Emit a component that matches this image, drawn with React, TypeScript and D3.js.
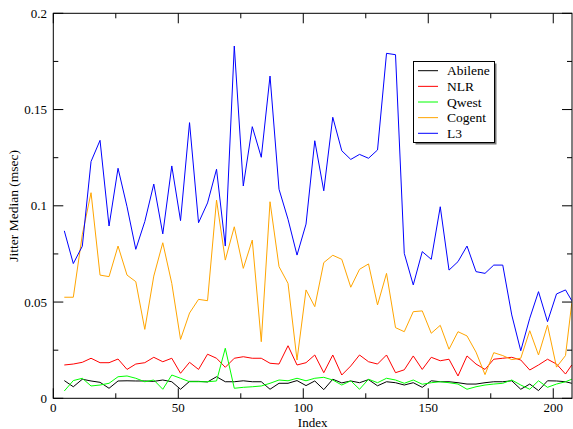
import React, { useEffect, useRef } from 'react';
import * as d3 from 'd3';

// sample index (shared by every series)
const indexValues = [
  4.4, 8.0, 11.6, 15.1, 18.7, 22.3, 25.9, 29.5, 33.0, 36.6, 40.2, 43.8, 47.4, 50.9, 54.5,
  58.1, 61.7, 65.3, 68.8, 72.4, 76.0, 79.6, 83.2, 86.7, 90.3, 93.9, 97.5, 101.1, 104.6,
  108.2, 111.8, 115.4, 119.0, 122.5, 126.1, 129.7, 133.3, 136.9, 140.4, 144.0, 147.6,
  151.2, 154.8, 158.3, 161.9, 165.5, 169.1, 172.7, 176.2, 179.8, 183.4, 187.0, 190.6,
  194.1, 197.7, 201.3, 204.9, 207.4
];

const abilene = [
  0.0092, 0.006, 0.0099, 0.009, 0.0083, 0.0052, 0.009, 0.0091, 0.009, 0.009, 0.0088, 0.0095,
  0.0086, 0.0047, 0.0088, 0.0088, 0.0085, 0.0112, 0.0086, 0.0086, 0.0091, 0.0086, 0.0086,
  0.0047, 0.0078, 0.0078, 0.0092, 0.0066, 0.009, 0.0045, 0.0099, 0.008, 0.009, 0.0081,
  0.0097, 0.0065, 0.0086, 0.0081, 0.0069, 0.0081, 0.0057, 0.0091, 0.0086, 0.0086, 0.0081,
  0.0074, 0.0074, 0.0081, 0.0086, 0.0086, 0.0091, 0.0047, 0.0074, 0.004, 0.0091, 0.009,
  0.0086, 0.0078
];

const nlr = [
  0.0173, 0.0178, 0.0187, 0.0208, 0.0185, 0.0185, 0.0204, 0.015, 0.0178, 0.0185, 0.0213,
  0.019, 0.0208, 0.013, 0.0187, 0.015, 0.0229, 0.0208, 0.0161, 0.0208, 0.0216, 0.0208,
  0.0208, 0.0182, 0.0178, 0.0273, 0.0173, 0.0185, 0.0225, 0.0133, 0.0225, 0.0121, 0.0168,
  0.0225, 0.019, 0.0178, 0.0225, 0.0133, 0.0148, 0.022, 0.015, 0.0213, 0.0195, 0.0203,
  0.0116, 0.022, 0.0178, 0.015, 0.0203, 0.0208, 0.0213, 0.0199, 0.0147, 0.0173, 0.0203,
  0.0178, 0.0126, 0.0173
];

const qwest = [
  0.0038, 0.0092, 0.0104, 0.0064, 0.0069, 0.0078, 0.0112, 0.0116, 0.0104, 0.0086, 0.0095,
  0.0047, 0.0121, 0.0104, 0.0086, 0.0086, 0.0086, 0.009, 0.026, 0.0052, 0.0057, 0.006,
  0.0064, 0.0078, 0.0095, 0.0091, 0.0104, 0.0091, 0.0104, 0.0109, 0.0095, 0.0069, 0.0091,
  0.0047, 0.0099, 0.0081, 0.0104, 0.0095, 0.0078, 0.0095, 0.0073, 0.0081, 0.0086, 0.0081,
  0.0074, 0.0047, 0.006, 0.0069, 0.0074, 0.0078, 0.0095, 0.0069, 0.0047, 0.0091, 0.0057,
  0.0074, 0.0086, 0.0099
];

const cogent = [
  0.0525, 0.0525, 0.085, 0.1068, 0.064, 0.0632, 0.0791, 0.064, 0.0606, 0.0358, 0.0635,
  0.0808, 0.0597, 0.0306, 0.0443, 0.0514, 0.0507, 0.103, 0.0718, 0.0891, 0.0675, 0.0822,
  0.0294, 0.1021, 0.0684, 0.0597, 0.0199, 0.0563, 0.0476, 0.0705, 0.0743, 0.0722, 0.0577,
  0.067, 0.0698, 0.0485, 0.0649, 0.0367, 0.0346, 0.045, 0.0454, 0.0338, 0.0379, 0.0255,
  0.0346, 0.0324, 0.024, 0.0123, 0.0237, 0.0222, 0.0201, 0.0208, 0.0351, 0.0225, 0.038,
  0.0162, 0.0222, 0.0494
];

const l3 = [
  0.087, 0.070, 0.079, 0.123, 0.134, 0.0895, 0.1195, 0.0995, 0.0774, 0.0918, 0.1113,
  0.0854, 0.1207, 0.0923, 0.1432, 0.0912, 0.1015, 0.119, 0.0791, 0.183, 0.1103, 0.1411,
  0.1252, 0.1674, 0.1086, 0.093, 0.0744, 0.0905, 0.1338, 0.1078, 0.146, 0.1286, 0.1241,
  0.1267, 0.1247, 0.129, 0.1792, 0.1785, 0.0753, 0.0589, 0.0762, 0.0722, 0.0995, 0.0666,
  0.071, 0.0791, 0.0658, 0.0649, 0.0692, 0.0692, 0.0433, 0.0247, 0.0416, 0.0554, 0.0398,
  0.0542, 0.0563, 0.0507
];

const seriesNames = ['Abilene', 'NLR', 'Qwest', 'Cogent', 'L3'];
const seriesValues = [abilene, nlr, qwest, cogent, l3];
const seriesColors = ['#000000', '#ff0000', '#00ff00', '#ffa500', '#0000ff'];

const xMajorTicks = [0, 50, 100, 150, 200];
const xMinorTicks = [25, 75, 125, 175];
const yMajorTicks = [0, 0.05, 0.1, 0.15, 0.2];
const yMinorTicks = [0.025, 0.075, 0.125, 0.175];

const FONT = "'Liberation Serif', 'Times New Roman', serif";

function App() {
  const svgRef = useRef(null);

  useEffect(() => {
    const svg = d3.select(svgRef.current);
    svg.selectAll('*').remove();

    const left = 53.3, right = 572, top = 13.3, bottom = 398.3;

    const xScale = d3.scaleLinear().domain([0, 207.5]).range([left, right]);
    const yScale = d3.scaleLinear().domain([0, 0.2]).range([bottom, top]);

    svg.append('rect').attr('width', 573).attr('height', 429).attr('fill', '#fff');

    svg.append('defs').append('clipPath').attr('id', 'plot-clip')
      .append('rect')
      .attr('x', left).attr('y', top)
      .attr('width', right - left).attr('height', bottom - top);

    // data lines
    const line = d3.line()
      .x((d, i) => xScale(indexValues[i]))
      .y(d => yScale(d));

    const lines = svg.append('g').attr('clip-path', 'url(#plot-clip)');
    seriesValues.forEach((vals, s) => {
      lines.append('path')
        .attr('d', line(vals))
        .attr('fill', 'none')
        .attr('stroke', seriesColors[s])
        .attr('stroke-width', 1);
    });

    // frame
    svg.append('rect')
      .attr('x', left).attr('y', top)
      .attr('width', right - left).attr('height', bottom - top)
      .attr('fill', 'none').attr('stroke', '#000').attr('stroke-width', 1);

    // ticks, inward on all four sides
    const ticks = svg.append('g').attr('stroke', '#000').attr('stroke-width', 1);
    const addX = (vals, len) => vals.forEach(v => {
      const x = xScale(v);
      ticks.append('line').attr('x1', x).attr('x2', x).attr('y1', bottom).attr('y2', bottom - len);
      ticks.append('line').attr('x1', x).attr('x2', x).attr('y1', top).attr('y2', top + len);
    });
    const addY = (vals, len) => vals.forEach(v => {
      const y = yScale(v);
      ticks.append('line').attr('x1', left).attr('x2', left + len).attr('y1', y).attr('y2', y);
      ticks.append('line').attr('x1', right).attr('x2', right - len).attr('y1', y).attr('y2', y);
    });
    addX(xMajorTicks, 10);
    addX(xMinorTicks, 5);
    addY(yMajorTicks, 10);
    addY(yMinorTicks, 5);

    // tick labels
    svg.append('g').selectAll('text')
      .data(xMajorTicks)
      .enter()
      .append('text')
      .attr('x', d => xScale(d))
      .attr('y', 411.5)
      .attr('text-anchor', 'middle')
      .style('font-family', FONT)
      .style('font-size', '13px')
      .attr('fill', '#000')
      .text(d => String(d));

    svg.append('g').selectAll('text')
      .data(yMajorTicks)
      .enter()
      .append('text')
      .attr('x', 47)
      .attr('y', d => yScale(d) + 4.5)
      .attr('text-anchor', 'end')
      .style('font-family', FONT)
      .style('font-size', '13px')
      .attr('fill', '#000')
      .text(d => String(d));

    // axis titles
    svg.append('text')
      .attr('x', (left + right) / 2)
      .attr('y', 426.5)
      .attr('text-anchor', 'middle')
      .style('font-family', FONT)
      .style('font-size', '13px')
      .text('Index');

    svg.append('text')
      .attr('transform', `translate(18, ${(top + bottom) / 2}) rotate(-90)`)
      .attr('text-anchor', 'middle')
      .style('font-family', FONT)
      .style('font-size', '13.5px')
      .text('Jitter Median (msec)');

    // legend
    const lg = svg.append('g');
    lg.append('rect')
      .attr('x', 415.5).attr('y', 63.5).attr('width', 81).attr('height', 81)
      .attr('fill', '#777');
    lg.append('rect')
      .attr('x', 413.5).attr('y', 61.5).attr('width', 81).attr('height', 81)
      .attr('fill', '#fff').attr('stroke', '#000').attr('stroke-width', 1);
    seriesNames.forEach((name, i) => {
      const y = 70.7 + i * 15.65;
      lg.append('line')
        .attr('x1', 418).attr('x2', 438).attr('y1', y).attr('y2', y)
        .attr('stroke', seriesColors[i]).attr('stroke-width', 1);
      lg.append('text')
        .attr('x', 447).attr('y', y + 4.5)
        .style('font-family', FONT)
        .style('font-size', '13.5px')
        .attr('fill', '#000')
        .text(name);
    });
  }, []);

  return (
    <div style={{ position: 'fixed', left: 0, top: 0, width: 573, height: 429, background: '#fff' }}>
      <svg ref={svgRef} width={573} height={429} style={{ display: 'block' }}></svg>
    </div>
  );
}

export default App;
